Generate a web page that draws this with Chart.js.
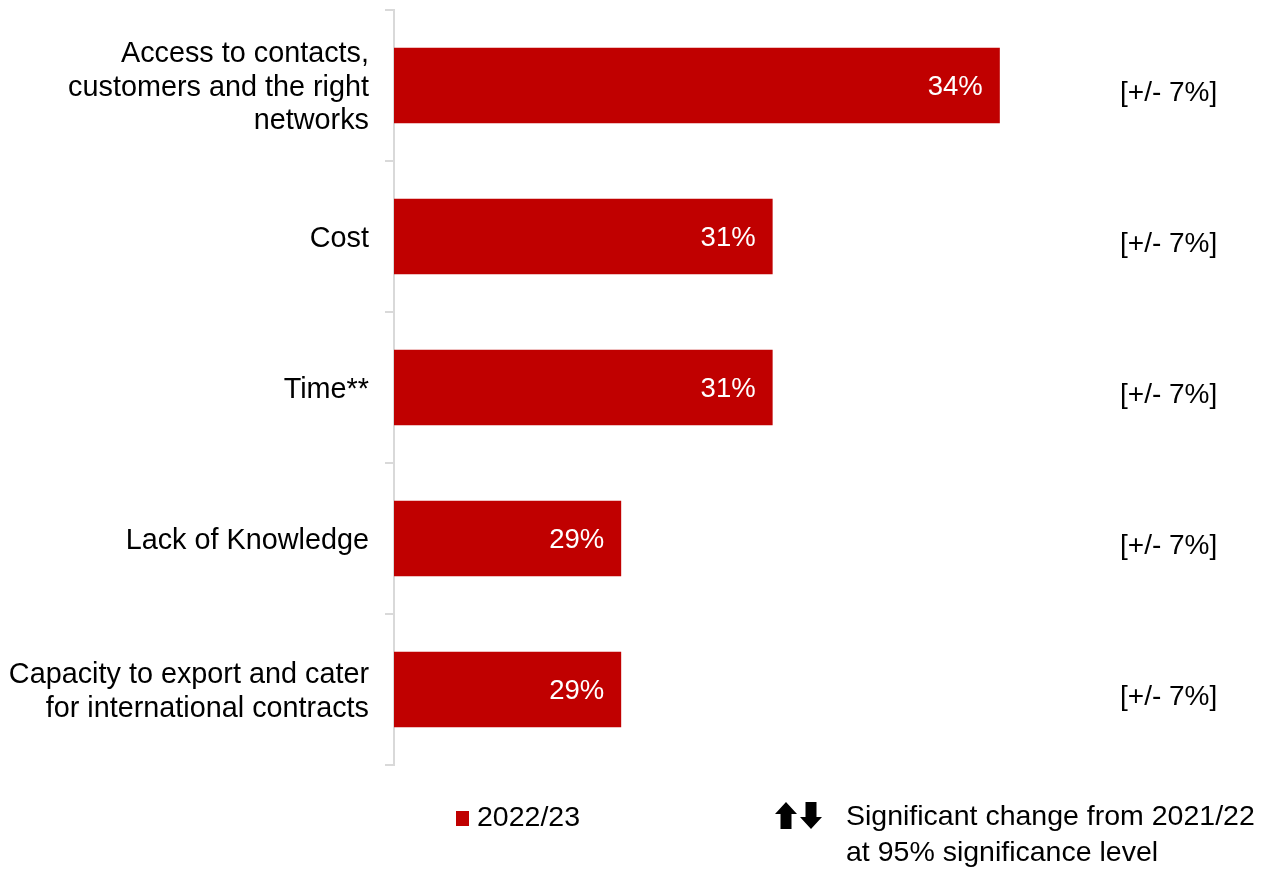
<!DOCTYPE html>
<html>
<head>
<meta charset="utf-8">
<script src="https://cdn.jsdelivr.net/npm/chart.js@4.4.1/dist/chart.umd.min.js"></script>
<style>
  html, body { margin: 0; padding: 0; background: #ffffff; }
  #wrap { width: 1270px; height: 869px; position: relative; }
</style>
</head>
<body>
<div id="wrap"><canvas id="chart" width="1270" height="869"></canvas></div>
<script>
// Barriers to exporting, share of businesses (2022/23)
const categories = [
  ['Access to contacts,', 'customers and the right', 'networks'],
  ['Cost'],
  ['Time**'],
  ['Lack of Knowledge'],
  ['Capacity to export and cater', 'for international contracts']
];
const values2022 = [34, 31, 31, 29, 29];
const marginOfError = [7, 7, 7, 7, 7];
const seriesName = '2022/23';
const noteLines = ['Significant change from 2021/22', 'at 95% significance level'];

const RED = '#C00000';
const FONT = '"Liberation Sans", Arial, sans-serif';

const annotations = {
  id: 'annotations',
  afterDatasetsDraw(chart) {
    const ctx = chart.ctx;
    const meta = chart.getDatasetMeta(0);
    ctx.save();
    ctx.textBaseline = 'middle';
    meta.data.forEach((bar, i) => {
      // value labels inside bar ends
      ctx.font = '27.5px ' + FONT;
      ctx.fillStyle = '#ffffff';
      ctx.textAlign = 'right';
      ctx.fillText(values2022[i] + '%', bar.x - 17, bar.y + 2);
      // margin of error column
      ctx.font = '28px ' + FONT;
      ctx.fillStyle = '#000000';
      ctx.textAlign = 'left';
      ctx.fillText('[+/- ' + marginOfError[i] + '%]', 1120, bar.y + 8);
    });

    // legend: series swatch
    ctx.font = '28.5px ' + FONT;
    ctx.fillStyle = RED;
    ctx.fillRect(456, 811, 13, 15);
    ctx.fillStyle = '#000000';
    ctx.textAlign = 'left';
    ctx.fillText(seriesName, 477, 818);

    // significance arrows
    const arrow = (cx, top, bottom, up) => {
      const headH = 12, headW = 11, shaftW = 5.5;
      ctx.beginPath();
      if (up) {
        ctx.moveTo(cx, top);
        ctx.lineTo(cx + headW, top + headH);
        ctx.lineTo(cx + shaftW, top + headH);
        ctx.lineTo(cx + shaftW, bottom);
        ctx.lineTo(cx - shaftW, bottom);
        ctx.lineTo(cx - shaftW, top + headH);
        ctx.lineTo(cx - headW, top + headH);
      } else {
        ctx.moveTo(cx, bottom);
        ctx.lineTo(cx + headW, bottom - headH);
        ctx.lineTo(cx + shaftW, bottom - headH);
        ctx.lineTo(cx + shaftW, top);
        ctx.lineTo(cx - shaftW, top);
        ctx.lineTo(cx - shaftW, bottom - headH);
        ctx.lineTo(cx - headW, bottom - headH);
      }
      ctx.closePath();
      ctx.fill();
    };
    ctx.fillStyle = '#000000';
    arrow(786, 802, 829, true);
    arrow(811, 802, 829, false);

    ctx.fillText(noteLines[0], 846, 817);
    ctx.fillText(noteLines[1], 846, 853);
    ctx.restore();
  }
};

new Chart(document.getElementById('chart'), {
  type: 'bar',
  data: {
    labels: categories,
    datasets: [{
      label: seriesName,
      data: values2022,
      backgroundColor: RED,
      borderWidth: 0,
      barPercentage: 1,
      categoryPercentage: 0.5
    }]
  },
  options: {
    indexAxis: 'y',
    responsive: false,
    animation: false,
    layout: { padding: { top: 10, bottom: 104, right: 43, left: 0 } },
    plugins: {
      legend: { display: false },
      tooltip: { enabled: false }
    },
    scales: {
      x: {
        display: false,
        min: 26,
        max: 37
      },
      y: {
        afterFit(scale) {
          scale.width = 394;
          scale.paddingTop = 0;
          scale.paddingBottom = 0;
        },
        border: { display: true, color: '#d9d9d9', width: 2 },
        grid: {
          offset: true,
          drawOnChartArea: false,
          drawTicks: true,
          tickLength: 9,
          color: '#d9d9d9',
          lineWidth: 2
        },
        ticks: {
          color: '#000000',
          padding: 16,
          labelOffset: 2.5,
          font: { family: FONT, size: 28.8, lineHeight: 1.165 }
        }
      }
    }
  },
  plugins: [annotations]
});
</script>
</body>
</html>
